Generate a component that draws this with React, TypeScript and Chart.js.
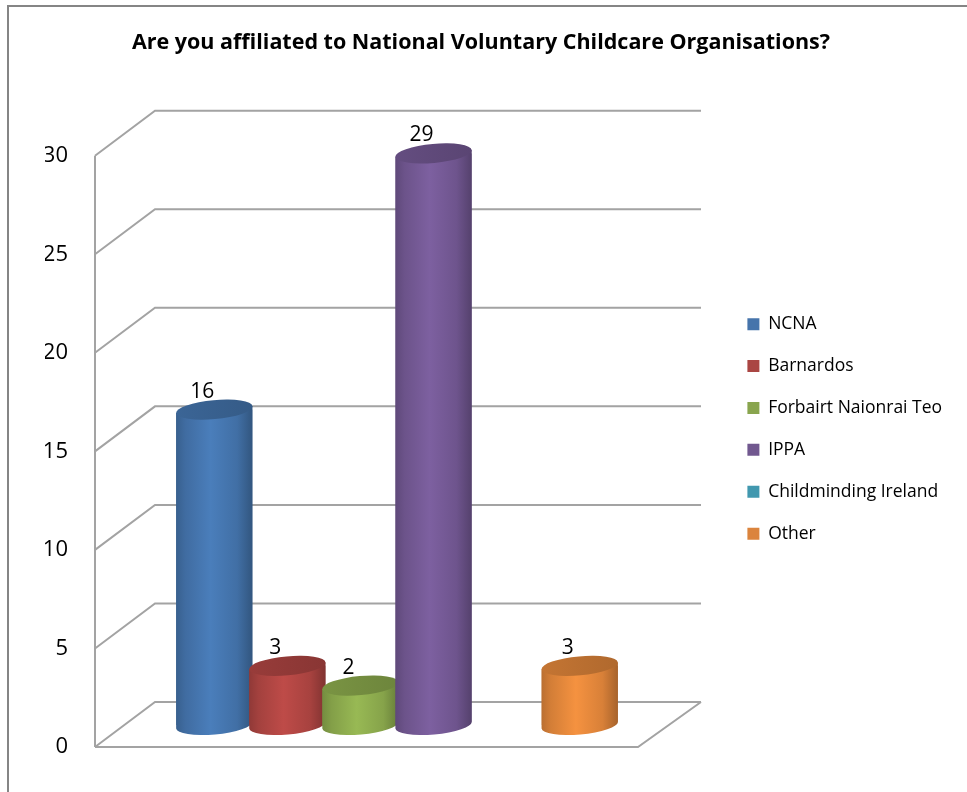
import React, { useEffect, useRef } from "react";
import { Chart, registerables } from "chart.js";

Chart.register(...registerables);

const title = "Are you affiliated to National Voluntary Childcare Organisations?";
const seriesNames = ["NCNA", "Barnardos", "Forbairt Naionrai Teo", "IPPA", "Childminding Ireland", "Other"];
const seriesValues = [16, 3, 2, 29, 0, 3];
const legendColors = ["#4674AB", "#AA4643", "#89A54E", "#71588F", "#4198AF", "#DB843D"];
const bodyColors: number[][] = [
  [74, 126, 187],
  [190, 75, 72],
  [152, 185, 84],
  [125, 96, 160],
  [70, 170, 196],
  [245, 146, 64],
];
const tickValues = [0, 5, 10, 15, 20, 25, 30];

const FONT = "'Open Sans', Lato, sans-serif";
const GRID = "#A3A3A3";
const DEPTH_X = 60;
const DEPTH_Y = 45;
const TILT = -0.09;

const shade = (c: number[], f: number) => `rgb(${c.map((v) => Math.round(v * f)).join(",")})`;

function cylinderGradient(ctx: CanvasRenderingContext2D, el: any, c: number[]) {
  const l = el.x - el.width / 2;
  const g = ctx.createLinearGradient(l, 0, l + el.width, 0);
  g.addColorStop(0, shade(c, 0.76));
  g.addColorStop(0.12, shade(c, 0.86));
  g.addColorStop(0.45, shade(c, 1));
  g.addColorStop(0.8, shade(c, 0.88));
  g.addColorStop(1, shade(c, 0.68));
  return g;
}

const cylinderPlugin = {
  id: "cylinders",
  afterDatasetsUpdate(chart: any) {
    seriesValues.forEach((_, i) => {
      const el = chart.getDatasetMeta(i).data[0];
      if (el) el.options = { ...el.options, backgroundColor: cylinderGradient(chart.ctx, el, bodyColors[i]) };
    });
  },
  beforeDraw(chart: any) {
    const { ctx } = chart;
    ctx.save();
    ctx.fillStyle = "#858585";
    ctx.fillRect(7, 5, 960, 2);
    ctx.fillRect(7, 5, 2, 787);
    ctx.restore();
    chart.legend.left = 723;
    chart.legend.right = 967;
  },
  beforeDatasetsDraw(chart: any) {
    const { ctx, chartArea: a, scales } = chart;
    const y = scales.y;
    const left = a.left;
    const backRight = a.right + 2;
    const frontRight = backRight - DEPTH_X - 3;
    ctx.save();
    ctx.strokeStyle = GRID;
    ctx.lineWidth = 2;
    ctx.lineJoin = "miter";
    ctx.beginPath();
    ctx.moveTo(left, y.getPixelForValue(30));
    ctx.lineTo(left, y.getPixelForValue(0));
    ctx.stroke();
    tickValues.forEach((v) => {
      const py = y.getPixelForValue(v);
      ctx.beginPath();
      ctx.moveTo(left, py);
      ctx.lineTo(left + DEPTH_X, py - DEPTH_Y);
      ctx.lineTo(backRight, py - DEPTH_Y);
      ctx.stroke();
    });
    const p0 = y.getPixelForValue(0);
    ctx.beginPath();
    ctx.moveTo(left, p0);
    ctx.lineTo(frontRight, p0);
    ctx.lineTo(backRight, p0 - DEPTH_Y);
    ctx.stroke();
    ctx.restore();

    seriesValues.forEach((value, i) => {
      const meta = chart.getDatasetMeta(i);
      const el = meta.data[0];
      if (!el || value === 0) return;
      const rx = el.width / 2 / Math.cos(TILT);
      const ry = 9.5;
      const dx = rx * Math.cos(TILT);
      const dy = rx * Math.sin(TILT);
      const fill = cylinderGradient(ctx, el, bodyColors[i]);
      const silhouette = () => {
        ctx.beginPath();
        ctx.moveTo(el.x - dx, el.y - dy);
        ctx.lineTo(el.x - dx, el.base - dy);
        ctx.ellipse(el.x, el.base, rx, ry, TILT, Math.PI, 0, true);
        ctx.lineTo(el.x + dx, el.y + dy);
        ctx.closePath();
      };
      ctx.save();
      silhouette();
      ctx.fillStyle = fill;
      ctx.fill();
      silhouette();
      ctx.clip();
      meta.controller.draw();
      ctx.restore();
      const capGrad = ctx.createLinearGradient(el.x - dx, 0, el.x + dx, 0);
      capGrad.addColorStop(0, shade(bodyColors[i], 0.8));
      capGrad.addColorStop(1, shade(bodyColors[i], 0.72));
      ctx.save();
      ctx.beginPath();
      ctx.ellipse(el.x, el.y, rx, ry, TILT, 0, Math.PI * 2);
      ctx.fillStyle = capGrad;
      ctx.fill();
      ctx.restore();
    });

    ctx.save();
    ctx.fillStyle = "#000";
    ctx.font = `21px ${FONT}`;
    ctx.textAlign = "center";
    ctx.textBaseline = "middle";
    seriesValues.forEach((value, i) => {
      const el = chart.getDatasetMeta(i).data[0];
      if (!el || value === 0) return;
      ctx.fillText(String(value), el.x - 12, el.y - 18);
    });
    ctx.restore();
    return false;
  },
};

export default function App() {
  const ref = useRef<HTMLCanvasElement>(null);
  useEffect(() => {
    const chart = new Chart(ref.current as HTMLCanvasElement, {
      type: "bar",
      data: {
        labels: [""],
        datasets: seriesNames.map((name, i) => ({
          label: name,
          data: [seriesValues[i]],
          backgroundColor: legendColors[i],
          borderWidth: 0,
          yAxisID: "yBars",
          categoryPercentage: 0.726,
          barPercentage: 1.044,
        })),
      },
      options: {
        animation: false,
        responsive: false,
        layout: { padding: { left: 45, right: 50, top: 20, bottom: 45 } },
        plugins: {
          tooltip: { enabled: false },
          title: {
            display: true,
            text: title,
            color: "#000",
            font: { family: FONT, size: 21.5, weight: "bold" },
            padding: { top: 10, bottom: 55 },
          },
          legend: {
            position: "right",
            fullSize: false,
            labels: {
              boxWidth: 12,
              boxHeight: 12,
              color: "#000",
              padding: 24.4,
              font: { family: FONT, size: 17.5 },
            },
          },
        },
        scales: {
          x: { display: false, grid: { display: false } },
          y: {
            position: "left",
            min: 0,
            max: 32.28,
            grid: { display: false, drawTicks: false },
            border: { display: false },
            afterFit: (s: any) => {
              s.width = 50;
            },
            afterBuildTicks: (s: any) => {
              s.ticks = tickValues.map((value) => ({ value }));
            },
            ticks: { color: "#000", padding: 27, font: { family: FONT, size: 22 } },
          },
          yBars: {
            display: false,
            min: -1.117,
            max: 31.163,
            grid: { display: false },
          },
        },
      } as any,
      plugins: [cylinderPlugin as any],
    });
    return () => chart.destroy();
  }, []);
  return (
    <canvas
      ref={ref}
      width={967}
      height={792}
      style={{ position: "fixed", left: 0, top: 0, display: "block", background: "#fff" }}
    />
  );
}
